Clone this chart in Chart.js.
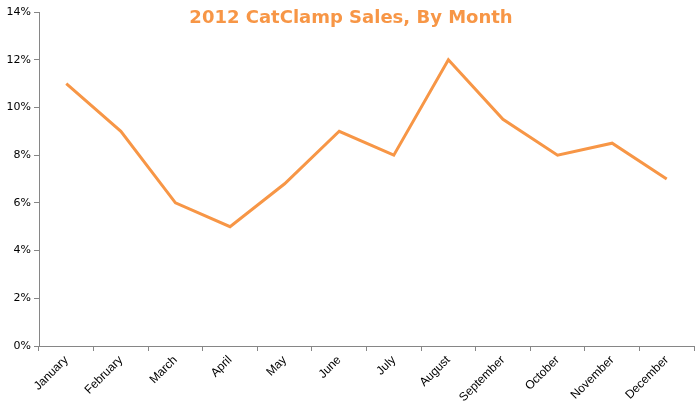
<!DOCTYPE html>
<html>
<head>
<meta charset="utf-8">
<script src="https://cdn.jsdelivr.net/npm/chart.js@4"></script>
<style>
  body { margin: 0; background: #fff; }
  #wrap { position: relative; width: 700px; height: 412px; }
</style>
</head>
<body>
<div id="wrap"><canvas id="sales-chart" width="700" height="412"></canvas></div>
<script>
// Monthly sales share
const months = ["January", "February", "March", "April", "May", "June",
  "July", "August", "September", "October", "November", "December"];
const salesPct = [11, 9, 6, 5, 6.8, 9, 8, 12, 9.5, 8, 8.5, 7];
const yTicks = [0, 2, 4, 6, 8, 10, 12, 14];

const orange = "#F79646";
const axisGray = "#868686";

// Title drawn over the top of the plot, like the original
const titlePlugin = {
  id: "overTitle",
  afterDraw(chart) {
    const ctx = chart.ctx;
    ctx.save();
    ctx.fillStyle = orange;
    ctx.font = "bold 18px 'DejaVu Sans'";
    ctx.textAlign = "center";
    ctx.textBaseline = "middle";
    ctx.fillText("2012 CatClamp Sales, By Month", 351, 18);
    ctx.restore();
  }
};

const salesChart = new Chart(document.getElementById("sales-chart"), {
  type: "line",
  data: {
    labels: months,
    datasets: [{
      label: "Sales",
      data: salesPct,
      borderColor: orange,
      borderWidth: 3,
      pointRadius: 0,
      tension: 0,
      fill: false
    }]
  },
  options: {
    responsive: false,
    animation: false,
    layout: { padding: { top: 12, right: 6, left: 0, bottom: 0 } },
    plugins: {
      legend: { display: false },
      title: { display: false },
      tooltip: { enabled: false }
    },
    scales: {
      x: {
        offset: true,
        afterFit: (scale) => { scale.height = 66; },
        grid: { offset: true, drawOnChartArea: false, drawTicks: true, tickLength: 5, color: axisGray },
        border: { color: axisGray, width: 1 },
        ticks: {
          maxRotation: 45, minRotation: 45, autoSkip: false,
          color: "#000", padding: 2,
          font: { family: "'Liberation Sans', Arial", size: 12 }
        }
      },
      y: {
        min: 0, max: 14,
        afterFit: (scale) => { scale.width = 39; },
        afterBuildTicks: (scale) => { scale.ticks = yTicks.map(v => ({ value: v })); },
        grid: { drawOnChartArea: false, drawTicks: true, tickLength: 5, color: axisGray },
        border: { color: axisGray, width: 1 },
        ticks: {
          color: "#000", padding: 3,
          font: { family: "'DejaVu Sans'", size: 11 },
          callback: (v) => v + "%"
        }
      }
    }
  },
  plugins: [titlePlugin]
});
</script>
</body>
</html>
